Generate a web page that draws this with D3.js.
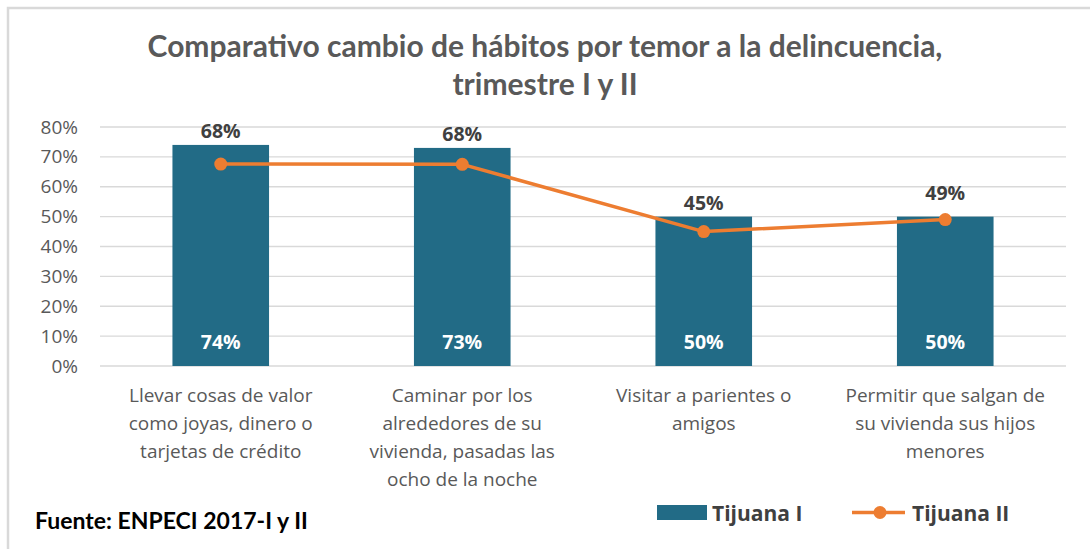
<!DOCTYPE html>
<html>
<head>
<meta charset="utf-8">
<script src="https://cdn.jsdelivr.net/npm/d3@7"></script>
<style>
  body { margin: 0; background: #fff; }
  svg text { font-family: "Open Sans", sans-serif; }
</style>
</head>
<body>
<svg id="chart" width="1090" height="549"></svg>
<script>
const categories = [
    ["Llevar cosas de valor", "como joyas, dinero o", "tarjetas de crédito"],
    ["Caminar por los", "alrededores de su", "vivienda, pasadas las", "ocho de la noche"],
    ["Visitar a parientes o", "amigos"],
    ["Permitir que salgan de", "su vivienda sus hijos", "menores"]
];
const tijuanaI = [74, 73, 50, 50];      // bars
const tijuanaII = [67.6, 67.5, 45, 49];  // line
const yTicks = [0, 10, 20, 30, 40, 50, 60, 70, 80];

const svg = d3.select("#chart");
const margin = { top: 127, left: 100, right: 24, bottom: 183 };
const width = 1090 - margin.left - margin.right;
const height = 549 - margin.top - margin.bottom;

// frame
svg.append("path")
    .attr("d", "M8,549 L8,8 L1090,8")
    .attr("fill", "none")
    .attr("stroke", "#d9d9d9")
    .attr("stroke-width", 2.5);

// title
svg.append("text")
    .attr("x", 545).attr("y", 57)
    .attr("text-anchor", "middle")
    .style("font-family", "Lato, sans-serif")
    .style("font-weight", "bold")
    .style("font-size", "30px")
    .attr("fill", "#595959")
    .selectAll("tspan")
    .data(["Comparativo cambio de hábitos por temor a la delincuencia,", "trimestre I y II"])
    .enter().append("tspan")
    .attr("x", 545)
    .attr("dy", (d, i) => i === 0 ? 0 : 38)
    .text(d => d);

const g = svg.append("g").attr("transform", `translate(${margin.left},${margin.top})`);

const x = d3.scaleBand()
    .domain(d3.range(categories.length))
    .range([0, width])
    .paddingInner(0.6)
    .paddingOuter(0.3);

const y = d3.scaleLinear().domain([0, 80]).range([height, 0]);

// gridlines
g.selectAll(".grid")
    .data(yTicks)
    .enter().append("line")
    .attr("x1", 0).attr("x2", width)
    .attr("y1", d => y(d)).attr("y2", d => y(d))
    .attr("stroke", "#d9d9d9")
    .attr("stroke-width", 1.3);

// y axis labels
const yAxis = g.append("g")
    .call(d3.axisLeft(y).tickValues(yTicks).tickFormat(d => d + "%").tickSize(0).tickPadding(22));
yAxis.select(".domain").remove();
yAxis.selectAll("text")
    .style("font-size", "19px")
    .style("font-family", "Open Sans, sans-serif")
    .attr("fill", "#595959");

// bars
g.selectAll(".bar")
    .data(tijuanaI)
    .enter().append("rect")
    .attr("x", (d, i) => x(i))
    .attr("y", d => y(d))
    .attr("width", x.bandwidth())
    .attr("height", d => height - y(d))
    .attr("fill", "#226b86");

// bar labels
g.selectAll(".barlabel")
    .data(tijuanaI)
    .enter().append("text")
    .attr("x", (d, i) => x(i) + x.bandwidth() / 2)
    .attr("y", height - 17)
    .attr("text-anchor", "middle")
    .style("font-weight", "bold")
    .style("font-size", "19.5px")
    .attr("fill", "#ffffff")
    .text(d => Math.round(d) + "%");

// line
const cx = i => x(i) + x.bandwidth() / 2;
g.append("path")
    .datum(tijuanaII)
    .attr("d", d3.line().x((d, i) => cx(i)).y(d => y(d)))
    .attr("fill", "none")
    .attr("stroke", "#ed7d31")
    .attr("stroke-width", 3.5)
    .attr("stroke-linejoin", "round");

g.selectAll(".dot")
    .data(tijuanaII)
    .enter().append("circle")
    .attr("cx", (d, i) => cx(i))
    .attr("cy", d => y(d))
    .attr("r", 6.5)
    .attr("fill", "#ed7d31");

// line labels
g.selectAll(".linelabel")
    .data(tijuanaII)
    .enter().append("text")
    .attr("x", (d, i) => cx(i))
    .attr("y", (d, i) => Math.min(y(d), y(tijuanaI[i])) - 7 - (i === 3 ? 10 : 0))
    .attr("text-anchor", "middle")
    .style("font-weight", "bold")
    .style("font-size", "19.5px")
    .attr("fill", "#404040")
    .text(d => Math.round(d) + "%");

// category labels
g.selectAll(".cat")
    .data(categories)
    .enter().append("text")
    .attr("text-anchor", "middle")
    .style("font-size", "19px")
    .attr("fill", "#595959")
    .each(function (lines, i) {
        d3.select(this).selectAll("tspan")
            .data(lines)
            .enter().append("tspan")
            .attr("x", cx(i))
            .attr("y", (d, j) => height + 36 + j * 28)
            .text(d => d);
    });

// source
svg.append("text")
    .attr("x", 35).attr("y", 529)
    .style("font-family", "Lato, sans-serif")
    .style("font-weight", "bold")
    .style("font-size", "23px")
    .attr("fill", "#000")
    .text("Fuente: ENPECI 2017-I y II");

// legend
const legend = svg.append("g").attr("transform", "translate(657,512.5)");
legend.append("rect")
    .attr("x", 0).attr("y", -7.5)
    .attr("width", 50).attr("height", 15)
    .attr("fill", "#226b86");
legend.append("text")
    .attr("x", 55).attr("y", 8)
    .style("font-weight", "bold").style("font-size", "21px")
    .attr("fill", "#404040")
    .text("Tijuana I");
legend.append("line")
    .attr("x1", 195).attr("x2", 248)
    .attr("y1", 0).attr("y2", 0)
    .attr("stroke", "#ed7d31").attr("stroke-width", 3.5);
legend.append("circle")
    .attr("cx", 223).attr("cy", 0).attr("r", 6.5)
    .attr("fill", "#ed7d31");
legend.append("text")
    .attr("x", 255).attr("y", 8)
    .style("font-weight", "bold").style("font-size", "21px")
    .attr("fill", "#404040")
    .text("Tijuana II");
</script>
</body>
</html>
